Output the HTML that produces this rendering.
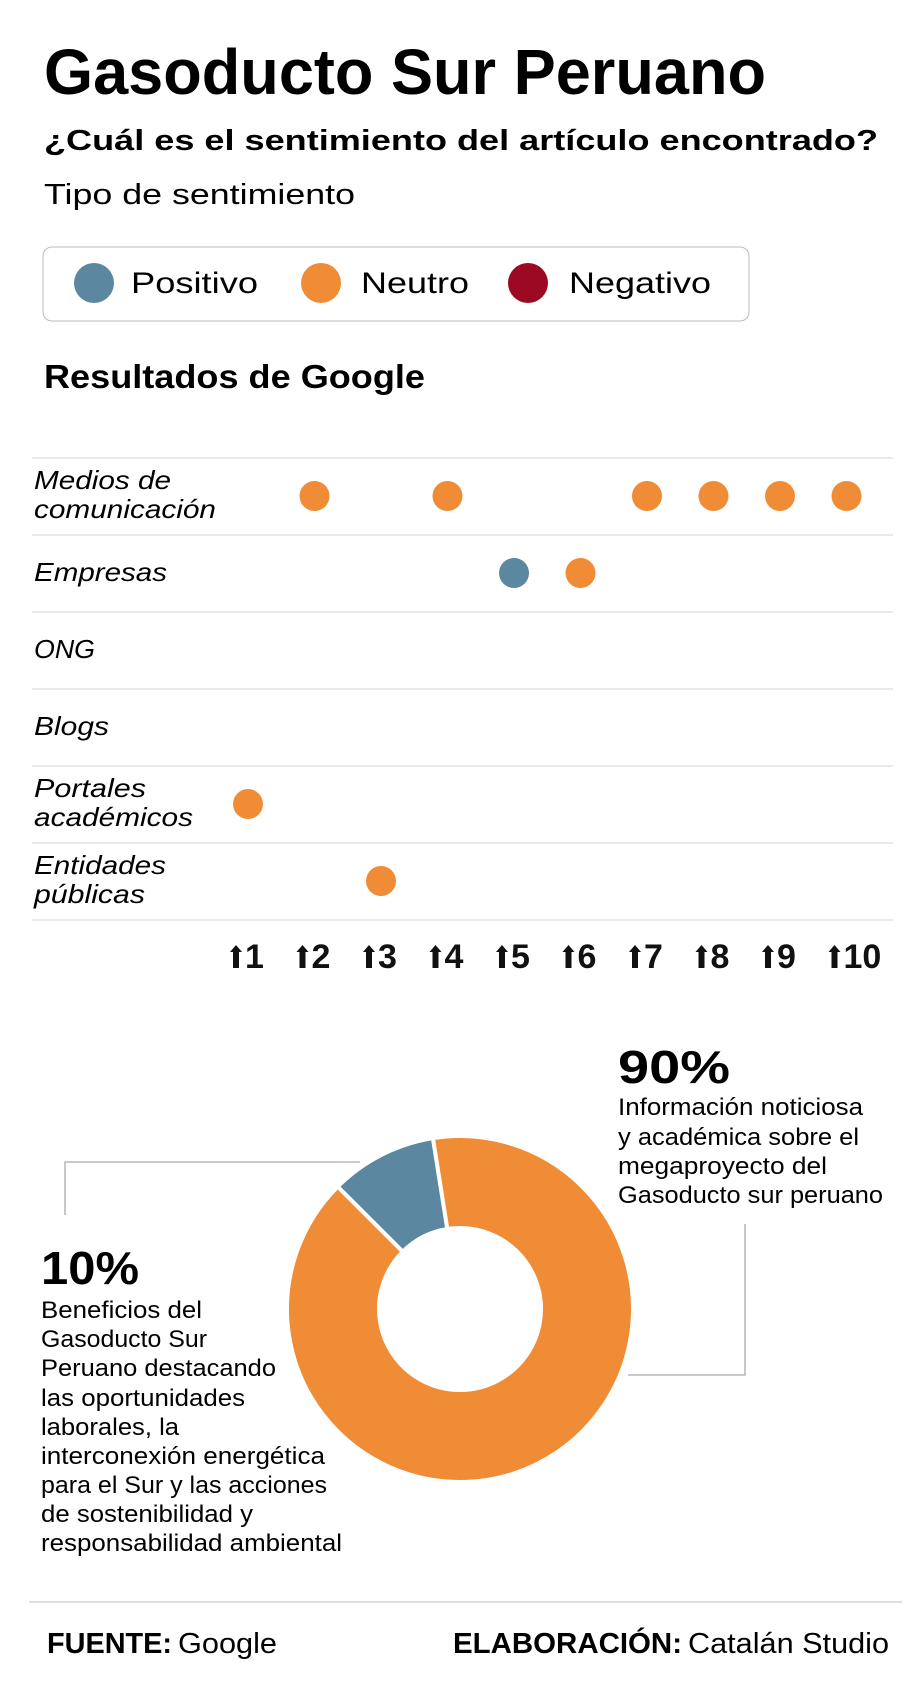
<!DOCTYPE html>
<html><head><meta charset="utf-8"><style>
html,body{margin:0;padding:0;background:#fff}
svg{display:block;font-family:"Liberation Sans",sans-serif}
</style></head><body>
<svg id="chart" width="920" height="1684" viewBox="0 0 920 1684">
<text x="44" y="94" font-size="64" font-weight="bold" textLength="722" lengthAdjust="spacingAndGlyphs">Gasoducto Sur Peruano</text>
<text x="44" y="150" font-size="29" font-weight="bold" textLength="834" lengthAdjust="spacingAndGlyphs">¿Cuál es el sentimiento del artículo encontrado?</text>
<text x="44" y="204" font-size="29" textLength="311" lengthAdjust="spacingAndGlyphs">Tipo de sentimiento</text>
<g>
<rect x="43" y="247" width="706" height="74" rx="9" fill="#fff" stroke="#bbb" stroke-width="1"/>
<g><circle cx="94" cy="283" r="20" fill="#5b87a0"/><text x="131" y="293" font-size="30" textLength="127" lengthAdjust="spacingAndGlyphs">Positivo</text></g>
<g><circle cx="321" cy="283" r="20" fill="#f08c35"/><text x="361" y="293" font-size="30" textLength="108" lengthAdjust="spacingAndGlyphs">Neutro</text></g>
<g><circle cx="528" cy="283" r="20" fill="#9b0a22"/><text x="569" y="293" font-size="30" textLength="142" lengthAdjust="spacingAndGlyphs">Negativo</text></g>
</g>
<text x="44" y="388" font-size="33" font-weight="bold" textLength="381" lengthAdjust="spacingAndGlyphs">Resultados de Google</text>
<g id="dotplot"></g>
<g id="donut"></g>
<g>
<polyline points="65,1215 65,1162 360,1162" fill="none" stroke="#aaa" stroke-width="1.3"/>
<polyline points="745,1224 745,1375 628,1375" fill="none" stroke="#aaa" stroke-width="1.3"/>
<text x="618" y="1083" font-size="46" font-weight="bold" textLength="112" lengthAdjust="spacingAndGlyphs">90%</text>
<g font-size="24">
<text x="618" y="1115" textLength="245" lengthAdjust="spacingAndGlyphs">Información noticiosa</text>
<text x="618" y="1145" textLength="241" lengthAdjust="spacingAndGlyphs">y académica sobre el</text>
<text x="618" y="1174" textLength="209" lengthAdjust="spacingAndGlyphs">megaproyecto del</text>
<text x="618" y="1203" textLength="265" lengthAdjust="spacingAndGlyphs">Gasoducto sur peruano</text>
</g>
<text x="41" y="1284" font-size="46" font-weight="bold" textLength="98" lengthAdjust="spacingAndGlyphs">10%</text>
<g font-size="24">
<text x="41" y="1318" textLength="161" lengthAdjust="spacingAndGlyphs">Beneficios del</text>
<text x="41" y="1347" textLength="166" lengthAdjust="spacingAndGlyphs">Gasoducto Sur</text>
<text x="41" y="1376" textLength="235" lengthAdjust="spacingAndGlyphs">Peruano destacando</text>
<text x="41" y="1406" textLength="204" lengthAdjust="spacingAndGlyphs">las oportunidades</text>
<text x="41" y="1435" textLength="138" lengthAdjust="spacingAndGlyphs">laborales, la</text>
<text x="41" y="1464" textLength="284" lengthAdjust="spacingAndGlyphs">interconexión energética</text>
<text x="41" y="1493" textLength="286" lengthAdjust="spacingAndGlyphs">para el Sur y las acciones</text>
<text x="41" y="1522" textLength="212" lengthAdjust="spacingAndGlyphs">de sostenibilidad y</text>
<text x="41" y="1551" textLength="301" lengthAdjust="spacingAndGlyphs">responsabilidad ambiental</text>
</g>
</g>
<line x1="29" y1="1602" x2="902" y2="1602" stroke="#ccc" stroke-width="1.3"/>
<text x="47" y="1653" font-size="29"><tspan font-weight="bold" textLength="125" lengthAdjust="spacingAndGlyphs">FUENTE:</tspan><tspan dx="6" textLength="99" lengthAdjust="spacingAndGlyphs">Google</tspan></text>
<text x="453" y="1653" font-size="29"><tspan font-weight="bold" textLength="229" lengthAdjust="spacingAndGlyphs">ELABORACIÓN:</tspan><tspan dx="6" textLength="201" lengthAdjust="spacingAndGlyphs">Catalán Studio</tspan></text>
</svg>
<script>
const categories = ["Medios de|comunicación","Empresas","ONG","Blogs","Portales|académicos","Entidades|públicas"];
const labelWidths = ["137|182","133","61","75","112|159","132|111"];
const ranks = [1,2,3,4,5,6,7,8,9,10];
const resultRanks = [1,2,3,4,5,6,7,8,9,10];
const resultCategory = [4,0,5,0,1,1,0,0,0,0];
const resultSentiment = ["neutro","neutro","neutro","neutro","positivo","neutro","neutro","neutro","neutro","neutro"];
const donutLabels = ["Positivo","Neutro"];
const donutValues = [10,90];

const NS="http://www.w3.org/2000/svg";
const colors={positivo:"#5b87a0",neutro:"#f08c35",negativo:"#9b0a22"};
function mk(tag,attrs,parent){const e=document.createElementNS(NS,tag);for(const k in attrs)e.setAttribute(k,attrs[k]);parent.appendChild(e);return e;}
const xScale=r=>248+(r-1)*66.5;
const rowTop=i=>458+i*77;
const rowMid=i=>rowTop(i)+38;

const dp=document.getElementById('dotplot');
for(let i=0;i<=categories.length;i++){
  const l=mk('line',{x1:32,x2:893,y1:rowTop(i),y2:rowTop(i),stroke:'#ddd','stroke-width':1.3},dp);
  
  
}
categories.forEach((c,i)=>{
  const parts=c.split('|');
  const widths=labelWidths[i].split('|');
  parts.forEach((p,j)=>{
    const y=parts.length===1?rowMid(i)+8:rowMid(i)-7+j*29;
    const t=mk('text',{x:34,y:y,'font-size':26,'font-style':'italic',textLength:widths[j],lengthAdjust:'spacingAndGlyphs'},dp);
    
    
    t.textContent=p;
  });
});
ranks.forEach(r=>{
  const cx=xScale(r);
  const g=mk('g',{},dp);
  
  
  const ax=cx-12;
  mk('polygon',{points:`${ax},945 ${ax+6},952 ${ax+3},952 ${ax+3},968 ${ax-3},968 ${ax-3},952 ${ax-6},952`,fill:'#111'},g);
  const t=mk('text',{x:ax+9,y:968,'font-size':34,'font-weight':'bold',fill:'#111'},g);
  t.textContent=String(r);
});
resultRanks.forEach((r,k)=>{
  const c=mk('circle',{cx:xScale(r),cy:rowMid(resultCategory[k]),r:15,fill:colors[resultSentiment[k]]},dp);
  
  
});

const dn=document.getElementById('donut');
const cx=460,cy=1309,R=173,r0=81;
const total=donutValues.reduce((a,b)=>a+b,0);
let start=-45-(donutValues[0]/total*360-36);
const sliceColors=["#5b87a0","#f08c35"];
donutValues.forEach((v,i)=>{
  const sweep=v/total*360;const end=start+sweep;
  const p=(a,rr)=>{const t=(a-90)*Math.PI/180;return [cx+rr*Math.cos(t),cy+rr*Math.sin(t)];};
  const large=sweep>180?1:0;
  const [x1,y1]=p(start,R),[x2,y2]=p(end,R),[x3,y3]=p(end,r0),[x4,y4]=p(start,r0);
  const path=mk('path',{d:`M${x1},${y1} A${R},${R} 0 ${large} 1 ${x2},${y2} L${x3},${y3} A${r0},${r0} 0 ${large} 0 ${x4},${y4} Z`,fill:sliceColors[i],stroke:'#fff','stroke-width':4},dn);
  
  
  start=end;
});
</script>
</body></html>
